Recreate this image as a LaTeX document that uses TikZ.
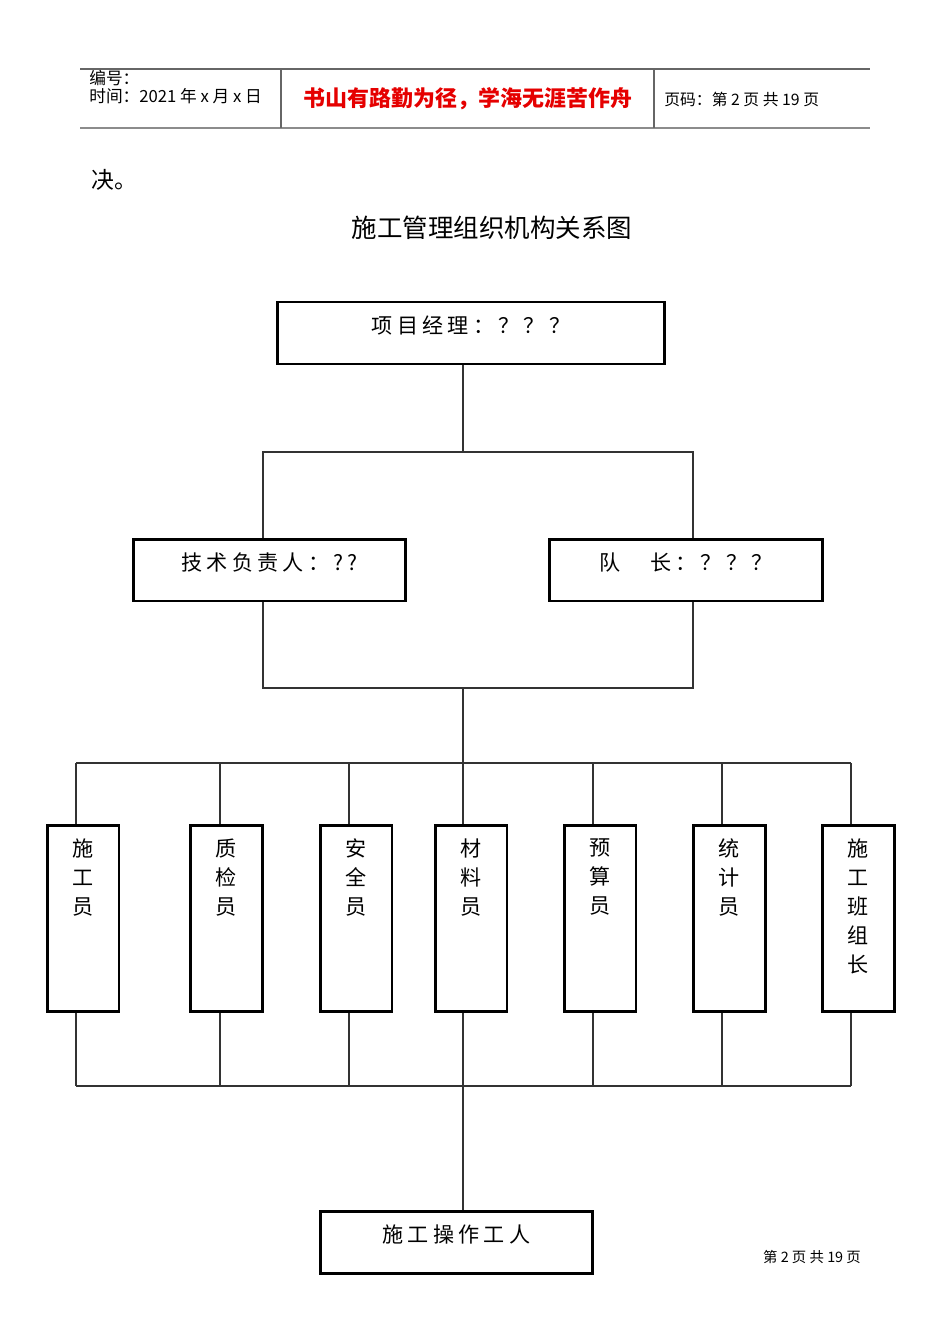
\documentclass[tikz,border=0pt]{standalone}
\usepackage{fontspec}
\setmainfont{Noto Sans CJK SC}
\newfontfamily\cjkwide[LetterSpace=20]{Noto Sans CJK SC}
\usetikzlibrary{positioning}

\begin{document}
\begin{tikzpicture}[x=0.02cm,y=-0.02cm,
    box/.style={draw,line width=1.7pt,inner sep=0pt},
    widebox/.style={box,minimum width=5.46cm,minimum height=1.24cm},
    tallbox/.style={box,minimum width=1.44cm,minimum height=3.74cm},
    lbl/.style={anchor=north,inner sep=0pt,yshift=-0.3cm,align=center,
                font=\cjkwide\fontsize{12}{16.5}\selectfont},
    link/.style={line width=0.6pt,black!80}]
\useasboundingbox (0,0) rectangle (950,1344);

% header
\draw[black!60,line width=0.7pt] (80,69) -- (870,69);
\draw[black!45,line width=1.4pt] (80,128) -- (870,128);
\draw[black!60,line width=0.7pt] (281,69) -- (281,128) (654,69) -- (654,128);
\node[anchor=west,inner sep=0pt,font=\fontsize{9.5}{10}\selectfont] (num) at (89,78) {编号：};
\node[anchor=west,inner sep=0pt,font=\fontsize{9.5}{11}\selectfont] (date) at (89,96) {时间：2021 年 x 月 x 日};
\node[red!90!black,font=\bfseries\fontsize{12.5}{14}\selectfont] (motto) at (468,99) {书山有路勤为径，学海无涯苦作舟};
\node[anchor=west,inner sep=0pt,font=\fontsize{9}{10}\selectfont] (page) at (664,99) {页码：第 2 页 共 19 页};

\node[anchor=west,inner sep=0pt,font=\fontsize{13}{15}\selectfont] (prev) at (91,180) {决。};
\node[font=\fontsize{14.5}{16}\selectfont] (title) at (492,228) {施工管理组织机构关系图};

% boxes
\node[box,minimum width=7.76cm,minimum height=1.24cm,
      label={[lbl]north:项目经理：？？？}] (pm) at (471,333) {};
\node[widebox,label={[lbl]north:技术负责人：??}] (tech) at (269.5,570) {};
\node[widebox,label={[lbl]north:队　长：？？？}] (lead) at (686,570) {};
\node[widebox,label={[lbl]north:施工操作工人}] (work) at (456.5,1242) {};

% upper links
\coordinate (top) at (463,452);
\coordinate (tl) at (263,452);
\coordinate (tr) at (693,452);
\draw[link] (pm.south -| top) -- (top);
\draw[link] (tech.north -| tl) -- (tl) -- (tr) -- (lead.north -| tr);
\coordinate (ml) at (263,688);
\coordinate (mr) at (693,688);
\coordinate (mid) at (463,688);
\draw[link] (tech.south -| ml) -- (ml) -- (mr) -- (lead.south -| mr);

% staff
\foreach \i/\bx/\lx/\txt in {1/83/76/{施\\工\\员},2/226.5/220/{质\\检\\员},
    3/356/349/{安\\全\\员},4/471/463/{材\\料\\员},5/600/593/{预\\算\\员},
    6/729.5/722/{统\\计\\员},7/858.5/851/{施\\工\\班\\组\\长}}{
  \node[tallbox,label={[lbl]north:{\txt}}] (s\i) at (\bx,918.5) {};
  \coordinate (u\i) at (\lx,763);
  \coordinate (d\i) at (\lx,1086);
  \draw[link] (u\i) -- (s\i.north -| u\i);
  \draw[link] (s\i.south -| d\i) -- (d\i);
}
\draw[link] (mid) -- (u4);
\draw[link] (u1) -- (u7);
\draw[link] (d1) -- (d7);
\draw[link] (d4) -- (work.north -| d4);

% footer
\node[font=\fontsize{8.2}{10}\selectfont] (foot) at (812,1257) {第 2 页 共 19 页};
\end{tikzpicture}
\end{document}
